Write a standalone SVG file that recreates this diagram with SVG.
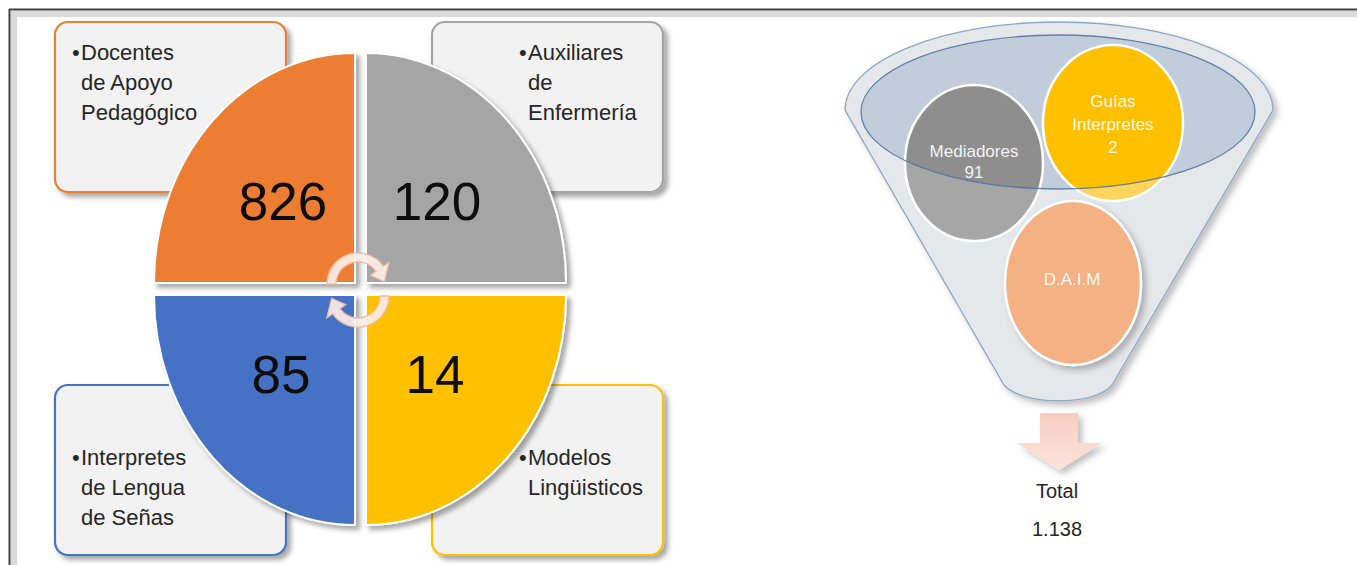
<svg xmlns="http://www.w3.org/2000/svg" width="1357" height="565" viewBox="0 0 1357 565">
<style>
  .lbl { font-family: "Liberation Sans", Arial, sans-serif; font-size: 22px; fill: #262626; }
  .num { font-family: "Liberation Sans", Arial, sans-serif; font-size: 53px; fill: #0d0d0d; text-anchor: middle; }
  .ctext { font-family: "Liberation Sans", Arial, sans-serif; font-size: 17px; fill: #ffffff; fill-opacity: 0.92; text-anchor: middle; }
  .tot { font-family: "Liberation Sans", Arial, sans-serif; font-size: 20px; fill: #262626; text-anchor: middle; }
  .box { fill: #F2F2F2; stroke-width: 2.2; filter: url(#sh); }
  .quad { stroke: #ffffff; stroke-width: 2; filter: url(#sh); }
  .cyc { fill: #FCEDE6; fill-opacity: 0.92; stroke: #EFB9A6; stroke-width: 1.3; }
  .circ { stroke: #ffffff; stroke-width: 2.5; }
</style>
<defs>
  <filter id="sh" x="-10%" y="-10%" width="130%" height="130%">
    <feDropShadow dx="4" dy="4" stdDeviation="2.5" flood-color="#000" flood-opacity="0.35"/>
  </filter>
  <filter id="sh2" x="-10%" y="-10%" width="130%" height="130%">
    <feDropShadow dx="4" dy="4" stdDeviation="3" flood-color="#000" flood-opacity="0.25"/>
  </filter>
  <clipPath id="inner">
    <ellipse cx="1058" cy="112" rx="197" ry="77"/>
  </clipPath>
  <linearGradient id="arrowG" x1="0" y1="0" x2="0" y2="1">
    <stop offset="0" stop-color="#F6CDBF"/>
    <stop offset="1" stop-color="#FBE4DC"/>
  </linearGradient>
</defs>

<!-- frame -->
<g id="frame">
  <rect x="0" y="0" width="1357" height="565" fill="#FFFFFF"/>
  <rect x="11" y="11" width="1346" height="6" fill="#DADADA"/>
  <rect x="11" y="11" width="6" height="554" fill="#DADADA"/>
  <line x1="9" y1="9.5" x2="1357" y2="9.5" stroke="#3F3F3F" stroke-width="2"/>
  <line x1="9.5" y1="9" x2="9.5" y2="565" stroke="#3F3F3F" stroke-width="2"/>
</g>

<!-- label boxes -->
<g id="box-docentes">
  <rect class="box" x="55" y="22" width="231" height="170" rx="13" stroke="#ED7D31"/>
  <text class="lbl" x="72" y="60">•</text>
  <text class="lbl" x="81" y="60">Docentes</text>
  <text class="lbl" x="81" y="90">de Apoyo</text>
  <text class="lbl" x="81" y="120">Pedagógico</text>
</g>
<g id="box-auxiliares">
  <rect class="box" x="432" y="22" width="231" height="170" rx="13" stroke="#A5A5A5"/>
  <text class="lbl" x="519" y="60">•</text>
  <text class="lbl" x="528" y="60">Auxiliares</text>
  <text class="lbl" x="528" y="90">de</text>
  <text class="lbl" x="528" y="120">Enfermería</text>
</g>
<g id="box-interpretes">
  <rect class="box" x="55" y="385" width="231" height="170" rx="13" stroke="#4472C4"/>
  <text class="lbl" x="72" y="465">•</text>
  <text class="lbl" x="81" y="465">Interpretes</text>
  <text class="lbl" x="81" y="495">de Lengua</text>
  <text class="lbl" x="81" y="525">de Señas</text>
</g>
<g id="box-modelos">
  <rect class="box" x="432" y="385" width="231" height="170" rx="13" stroke="#FFC000"/>
  <text class="lbl" x="519" y="465">•</text>
  <text class="lbl" x="528" y="465">Modelos</text>
  <text class="lbl" x="528" y="495">Lingüisticos</text>
</g>

<!-- quadrants -->
<g id="quad-826">
  <path class="quad" d="M355 53 A201 230 0 0 0 154 283 L355 283 Z" fill="#ED7D31"/>
  <text class="num" x="283" y="220">826</text>
</g>
<g id="quad-120">
  <path class="quad" d="M366 53 A200 230 0 0 1 566 283 L366 283 Z" fill="#A5A5A5"/>
  <text class="num" x="437" y="220">120</text>
</g>
<g id="quad-85">
  <path class="quad" d="M154 295 A201 230 0 0 0 355 525 L355 295 Z" fill="#4472C4"/>
  <text class="num" x="281" y="393">85</text>
</g>
<g id="quad-14">
  <path class="quad" d="M366 525 A200 230 0 0 0 566 295 L366 295 Z" fill="#FFC000"/>
  <text class="num" x="435" y="393">14</text>
</g>

<!-- funnel -->
<g id="funnel">
  <path d="M845 110 A214 88 0 0 1 1273 110 L1112 385 C1096 406 1022 406 1004 385 Z" fill="#E5E8EB" stroke="#8FA8C6" stroke-width="1.3" filter="url(#sh2)"/>
  <ellipse cx="1058" cy="112" rx="197" ry="77" fill="#7090B5" fill-opacity="0.3"/>
</g>
<g id="node-mediadores">
  <ellipse cx="974" cy="163" rx="69" ry="78" fill="#A6A6A6"/>
  <ellipse cx="974" cy="163" rx="69" ry="78" fill="#8E8E8E" clip-path="url(#inner)"/>
  <ellipse class="circ" cx="974" cy="163" rx="69" ry="78" fill="none"/>
  <text class="ctext" x="974" y="157">Mediadores</text>
  <text class="ctext" x="974" y="178">91</text>
</g>
<g id="node-guias">
  <ellipse cx="1113" cy="123" rx="70" ry="78" fill="#FFD45C"/>
  <ellipse cx="1113" cy="123" rx="70" ry="78" fill="#FFC000" clip-path="url(#inner)"/>
  <ellipse class="circ" cx="1113" cy="123" rx="70" ry="78" fill="none"/>
  <text class="ctext" x="1113" y="107">Guías</text>
  <text class="ctext" x="1113" y="130">Interpretes</text>
  <text class="ctext" x="1113" y="153">2</text>
</g>
<g id="funnel-rim">
  <ellipse cx="1058" cy="112" rx="197" ry="77" fill="none" stroke="#4F73A0" stroke-width="1.3" stroke-opacity="0.85"/>
</g>
<g id="node-daim">
  <ellipse class="circ" cx="1073" cy="283" rx="68" ry="82" fill="#F4B183" filter="url(#sh2)"/>
  <text class="ctext" x="1072" y="285">D.A.I.M</text>
</g>
<g id="node-total">
  <text class="tot" x="1057" y="498">Total</text>
  <text class="tot" x="1057" y="536">1.138</text>
</g>

<!-- connectors -->
<g id="connectors">
  <path class="cyc" d="M327 284 A31 31 0 0 1 383.4 266.2 L389.1 262.2 L384.4 281.7 L370.3 275.4 L376 271.4 A22 22 0 0 0 336 284 Z"/>
  <path class="cyc" d="M389 296 A31 31 0 0 1 332.6 313.8 L326.9 317.8 L331.6 298.3 L345.7 304.6 L340 308.6 A22 22 0 0 0 380 296 Z"/>
  <path d="M1040 413 L1078 413 L1078 443 L1102 443 L1059 470 L1017 443 L1040 443 Z" fill="url(#arrowG)" filter="url(#sh2)"/>
</g>
</svg>
